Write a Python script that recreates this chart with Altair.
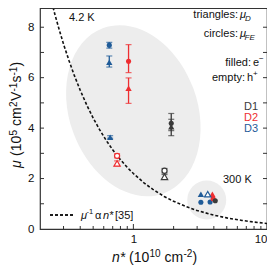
import altair as alt
import pandas as pd

W, H = 227, 227
FONT = "Liberation Sans"

# ---- measured points (n* in 1e10 cm^-2, mu in 1e5 cm^2/Vs) ----
device  = ["D3", "D3", "D2", "D2", "D3", "D2", "D2", "D1", "D1", "D1", "D1",
           "D3", "D3", "D3", "D3", "D2", "D2", "D1"]
kind    = ["circle", "triangle", "circle", "triangle", "triangle", "circle", "triangle",
           "circle", "triangle", "circle", "triangle",
           "triangle", "circle", "triangle", "circle", "triangle", "circle", "circle"]
carrier = ["e", "e", "e", "e", "e", "h", "h", "e", "e", "h", "h",
           "e", "e", "h", "e", "e", "e", "e"]
n_star  = [0.66, 0.66, 0.92, 0.92, 0.67, 0.755, 0.755, 1.92, 1.92, 1.71, 1.71,
           3.2, 3.2, 3.6, 3.75, 3.9, 3.95, 4.1]
mu      = [7.29, 6.61, 6.65, 5.58, 3.64, 2.90, 2.60, 4.19, 4.05, 2.31, 2.07,
           1.38, 1.06, 1.38, 1.07, 1.38, 1.20, 1.12]
mu_lo   = [7.17, 6.42, 6.20, 4.98, 3.60, 2.82, 2.50, 3.90, 3.70, 2.22, 1.98,
           1.38, 1.06, 1.38, 1.07, 1.38, 1.20, 1.12]
mu_hi   = [7.40, 6.86, 7.31, 5.99, 3.70, 2.98, 2.70, 4.58, 4.35, 2.40, 2.16,
           1.38, 1.06, 1.38, 1.07, 1.38, 1.20, 1.12]

# ---- dashed guide curve mu^-1 ~ n* ----
curve_n  = [0.245, 0.26, 0.28, 0.30, 0.33, 0.36, 0.40, 0.45, 0.50, 0.56, 0.63, 0.70,
            0.80, 0.90, 1.0, 1.2, 1.4, 1.7, 2.0, 2.5, 3.0, 4.0, 5.0, 6.5, 8.0, 10.0]
curve_mu = [8.98, 8.46, 7.86, 7.33, 6.67, 6.11, 5.50, 4.89, 4.40, 3.93, 3.49, 3.14,
            2.75, 2.44, 2.20, 1.83, 1.57, 1.29, 1.10, 0.88, 0.73, 0.55, 0.44, 0.34, 0.275, 0.22]

# ---- shaded regions (centres) ----
region_n  = [1.0, 3.54]
region_mu = [4.69, 1.15]

x_major = [1, 10]
x_minor = [0.3, 0.4, 0.5, 0.6, 0.7, 0.8, 0.9, 2, 3, 4, 5, 6, 7, 8, 9]
y_ticks = [1, 2, 3, 4, 5, 6, 7, 8]
y_labels = [0, 2, 4, 6, 8]

colors = {"D1": "#3a3a3a", "D2": "#ee2e31", "D3": "#1f5b98"}

pts = pd.DataFrame({"dev": device, "kind": kind, "car": carrier,
                    "n": n_star, "mu": mu, "lo": mu_lo, "hi": mu_hi})
pts["err"] = pts["hi"] - pts["lo"]
cur = pd.DataFrame({"n": curve_n, "mu": curve_mu})

xs = alt.Scale(type="log", domain=[0.2, 10], nice=False)
ys = alt.Scale(domain=[0, 9], nice=False)
cs = alt.Scale(domain=list(colors.keys()), range=list(colors.values()))
shp = alt.Scale(domain=["circle", "triangle"], range=["circle", "triangle-up"])
szs = alt.Scale(domain=["circle", "triangle"], range=[26, 40])

X = alt.X("n:Q", scale=xs,
          axis=alt.Axis(values=x_major, format="~g", ticks=False, tickSize=0, domain=False,
                        grid=False, title=None, labelPadding=4, labelFontSize=11.5,
                        labelFont=FONT, labelColor="#111"))
Y = alt.Y("mu:Q", scale=ys,
          axis=alt.Axis(values=y_labels, format="d", ticks=False, tickSize=0, domain=False,
                        grid=False, title=None, labelPadding=6, labelFontSize=11.5,
                        labelFont=FONT, labelColor="#111"))

ell_path = ("M 0,-1 C 0.4015,-1 0.727,-0.5523 0.727,0 C 0.727,0.5523 0.4015,1 0,1 "
            "C -0.4015,1 -0.727,0.5523 -0.727,0 C -0.727,-0.5523 -0.4015,-1 0,-1 Z")
reg = pd.DataFrame({"n": region_n, "mu": region_mu})
big = alt.Chart(reg.iloc[[0]]).mark_point(
    shape=ell_path, size=176 ** 2, filled=True, color="#ededed", opacity=1,
    strokeWidth=0, angle=340).encode(x=X, y=Y)
small = alt.Chart(reg.iloc[[1]]).mark_point(
    shape="circle", size=39 ** 2, filled=True, color="#ededed", opacity=1,
    strokeWidth=0).encode(x=alt.X("n:Q", scale=xs), y=alt.Y("mu:Q", scale=ys))

line = alt.Chart(cur).mark_line(color="#111", strokeDash=[3, 2], strokeWidth=1.6).encode(
    x=alt.X("n:Q", scale=xs), y=alt.Y("mu:Q", scale=ys))

eb = alt.Chart(pts).transform_filter("datum.err > 0.05")
bars = eb.mark_rule(strokeWidth=1.3).encode(
    x=alt.X("n:Q", scale=xs), y=alt.Y("lo:Q", scale=ys), y2="hi:Q",
    color=alt.Color("dev:N", scale=cs, legend=None))
cap_lo = eb.mark_tick(orient="horizontal", size=6, thickness=1.2).encode(
    x=alt.X("n:Q", scale=xs), y=alt.Y("lo:Q", scale=ys),
    color=alt.Color("dev:N", scale=cs, legend=None))
cap_hi = eb.mark_tick(orient="horizontal", size=6, thickness=1.2).encode(
    x=alt.X("n:Q", scale=xs), y=alt.Y("hi:Q", scale=ys),
    color=alt.Color("dev:N", scale=cs, legend=None))

filled = alt.Chart(pts).transform_filter("datum.car == 'e'").mark_point(
    filled=True, opacity=1, strokeWidth=0).encode(
    x=alt.X("n:Q", scale=xs), y=alt.Y("mu:Q", scale=ys),
    color=alt.Color("dev:N", scale=cs, legend=None),
    shape=alt.Shape("kind:N", scale=shp, legend=None),
    size=alt.Size("kind:N", scale=szs, legend=None))
empty = alt.Chart(pts).transform_filter("datum.car == 'h'").mark_point(
    filled=False, fill="white", fillOpacity=1, opacity=1, strokeWidth=1.2).encode(
    x=alt.X("n:Q", scale=xs), y=alt.Y("mu:Q", scale=ys),
    color=alt.Color("dev:N", scale=cs, legend=None),
    shape=alt.Shape("kind:N", scale=shp, legend=None),
    size=alt.Size("kind:N", scale=szs, legend=None))

# inward ticks
TC = "#333"
xmaj = pd.DataFrame({"n": x_major})
xmin = pd.DataFrame({"n": x_minor})
yt = pd.DataFrame({"mu": y_ticks})
tk = [
    alt.Chart(xmaj).mark_rule(color=TC, strokeWidth=1).encode(
        x=alt.X("n:Q", scale=xs), y=alt.value(H), y2=alt.value(H - 5)),
    alt.Chart(xmin).mark_rule(color=TC, strokeWidth=1).encode(
        x=alt.X("n:Q", scale=xs), y=alt.value(H), y2=alt.value(H - 3)),
    alt.Chart(yt).mark_rule(color=TC, strokeWidth=1).encode(
        y=alt.Y("mu:Q", scale=ys), x=alt.value(0), x2=alt.value(4)),
    alt.Chart(yt).mark_rule(color=TC, strokeWidth=1).encode(
        y=alt.Y("mu:Q", scale=ys), x=alt.value(W), x2=alt.value(W - 4)),
    alt.Chart(xmaj).mark_rule(color=TC, strokeWidth=1).encode(
        x=alt.value(0), x2=alt.value(W), y=alt.value(6.5)),
]


def txt(t, x, y, size=11, align="left", style="normal", color="#111", angle=0):
    return alt.Chart(alt.Data(values=[{}])).mark_text(
        align=align, baseline="alphabetic", fontSize=size, font=FONT,
        fontStyle=style, color=color, angle=angle).encode(
        x=alt.value(x), y=alt.value(y), text=alt.value(t))


texts = [
    txt("4.2 K", 29, 19),
    txt("300 K", 183, 181),
    txt("triangles:", 198, 16, align="right"),
    txt("μ", 200, 16, style="italic"),
    txt("D", 205, 19, size=8, style="italic"),
    txt("circles:", 198, 35, align="right"),
    txt("μ", 200, 35, style="italic"),
    txt("FE", 204.5, 38, size=8, style="italic"),
    txt("filled:", 211, 64, align="right"),
    txt("e", 213, 64),
    txt("−", 219, 59, size=8),
    txt("empty:", 205, 79, align="right"),
    txt("h", 207, 79),
    txt("+", 213, 74, size=8),
    txt("D1", 218, 108, align="right", color=colors["D1"]),
    txt("D2", 218, 119, align="right", color=colors["D2"]),
    txt("D3", 218, 130, align="right", color=colors["D3"]),
    txt("μ", 41, 217, style="italic"),
    txt("-1", 46.5, 212, size=7.5),
    txt("α", 55, 217),
    txt("n*", 63, 217, style="italic"),
    txt("[35]", 75, 217),
    # x axis title
    txt("n*", 72, 260, size=14, style="italic"),
    txt("(10", 89, 260, size=14),
    txt("10", 109.5, 255, size=10),
    txt("cm", 124.5, 260, size=14),
    txt("-2", 143.5, 255, size=10),
    txt(")", 152.5, 260, size=14),
    # y axis title (rotated)
    txt("μ", -19, 166, size=14, style="italic", angle=270),
    txt("(10", -19, 154, size=14, angle=270),
    txt("5", -23, 133.5, size=10, angle=270),
    txt("cm", -19, 124, size=14, angle=270),
    txt("2", -23, 105, size=10, angle=270),
    txt("V", -19, 99, size=14, angle=270),
    txt("-1", -23, 89.5, size=10, angle=270),
    txt("s", -19, 80.5, size=14, angle=270),
    txt("-1", -23, 73.5, size=10, angle=270),
    txt(")", -19, 64.5, size=14, angle=270),
]

legend_dash = alt.Chart(xmaj).mark_rule(color="#111", strokeDash=[3, 2], strokeWidth=1.6).encode(
    x=alt.value(10), x2=alt.value(33), y=alt.value(213))

chart = alt.layer(
    big, small, line, bars, cap_lo, cap_hi, filled, empty, *tk, legend_dash, *texts
).properties(
    width=W, height=H,
    autosize=alt.AutoSizeParams(type="none"),
    padding={"left": 32, "top": -6, "right": 0, "bottom": 40},
).configure_view(stroke="#333", strokeWidth=1.2)

chart.save("out.html", embed_options={"renderer": "svg", "actions": False})
